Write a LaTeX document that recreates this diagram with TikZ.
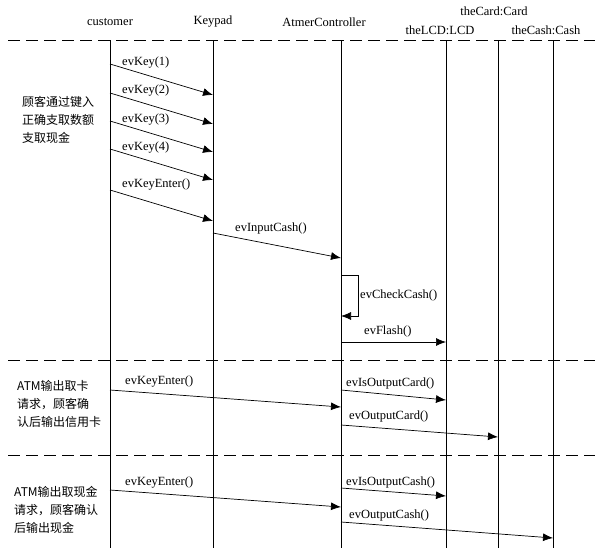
\documentclass[tikz,border=0pt]{standalone}
\usepackage{fontspec}
\setmainfont{Liberation Serif}
\newfontfamily\cjk{Noto Sans CJK SC}
\usetikzlibrary{arrows.meta}
\begin{document}
\begin{tikzpicture}[x=1pt,y=-1pt,font=\fontsize{12.5}{14}\selectfont,
 msg/.style={-{Latex[length=10pt,width=8pt]},line width=0.7pt},
 lbl/.style={inner sep=0pt,anchor=west},
 sep/.style={dash pattern=on 12pt off 6pt,line width=0.7pt},
 life/.style={line width=0.7pt},
 note/.style={align=left,anchor=north west,font=\cjk\fontsize{12}{18}\selectfont,inner sep=0pt}]
\useasboundingbox (0,0) rectangle (603,560);
\node (hc) at (110,22) {customer};
\node (hk) at (213,22) {Keypad};
\node (ha) at (324,22) {AtmerController};
\node (hl) at (440,30) {theLCD:LCD};
\node (hd) at (494,11) {theCard:Card};
\node (hs) at (546,30) {theCash:Cash};
\foreach \y in {40,360,455} \draw[sep] (8,\y) -- (595,\y);
\foreach \n/\x in {c/110,k/213,a/341,l/446,d/498,s/553}{
 \coordinate (t\n) at (\x,40); \coordinate (b\n) at (\x,548);
 \draw[life] (t\n) -- (b\n);}
\foreach \i/\ys/\ye in {1/64/95,2/93/124,3/121/152,4/149/180,5/190/221}{
 \coordinate (s\i) at (110,\ys); \coordinate (e\i) at (213,\ye);
 \draw[msg] (s\i) -- (e\i);}
\node[lbl] (l1) at (122,63) {evKey(1)};
\node[lbl] (l2) at (122,91) {evKey(2)};
\node[lbl] (l3) at (122,120) {evKey(3)};
\node[lbl] (l4) at (122,148) {evKey(4)};
\node[lbl] (l5) at (122,185) {evKeyEnter()};
\coordinate (ic1) at (213,233); \coordinate (ic2) at (341,258);
\draw[msg] (ic1) -- (ic2);
\node[lbl] (lic) at (235,228) {evInputCash()};
\coordinate (cc1) at (341,275); \coordinate (cc2) at (358,275);
\coordinate (cc3) at (358,316); \coordinate (cc4) at (341,316);
\draw[msg] (cc1) -- (cc2) -- (cc3) -- (cc4);
\node[lbl] (lcc) at (360,295) {evCheckCash()};
\coordinate (f1) at (341,342); \coordinate (f2) at (446,342);
\draw[msg] (f1) -- (f2);
\node[lbl] (lf) at (364,331) {evFlash()};
\coordinate (k1) at (110,390); \coordinate (k2) at (341,407);
\draw[msg] (k1) -- (k2);
\node[lbl] (lk) at (125,382) {evKeyEnter()};
\coordinate (o1) at (341,390); \coordinate (o2) at (446,400);
\draw[msg] (o1) -- (o2);
\node[lbl] (lo) at (346,383) {evIsOutputCard()};
\coordinate (oc1) at (341,425); \coordinate (oc2) at (498,437);
\draw[msg] (oc1) -- (oc2);
\node[lbl] (loc) at (349,416) {evOutputCard()};
\coordinate (m1) at (110,490); \coordinate (m2) at (341,507);
\draw[msg] (m1) -- (m2);
\node[lbl] (lm) at (125,483) {evKeyEnter()};
\coordinate (p1) at (341,488); \coordinate (p2) at (446,496);
\draw[msg] (p1) -- (p2);
\node[lbl] (lp) at (346,482) {evIsOutputCash()};
\coordinate (q1) at (341,522); \coordinate (q2) at (553,538);
\draw[msg] (q1) -- (q2);
\node[lbl] (lq) at (349,515) {evOutputCash()};
\node[note] (n1) at (22,96) {顾客通过键入\\正确支取数额\\支取现金};
\node[note] (n2) at (17,380) {ATM输出取卡\\请求，顾客确\\认后输出信用卡};
\node[note] (n3) at (14,486) {ATM输出取现金\\请求，顾客确认\\后输出现金};
\end{tikzpicture}
\end{document}
